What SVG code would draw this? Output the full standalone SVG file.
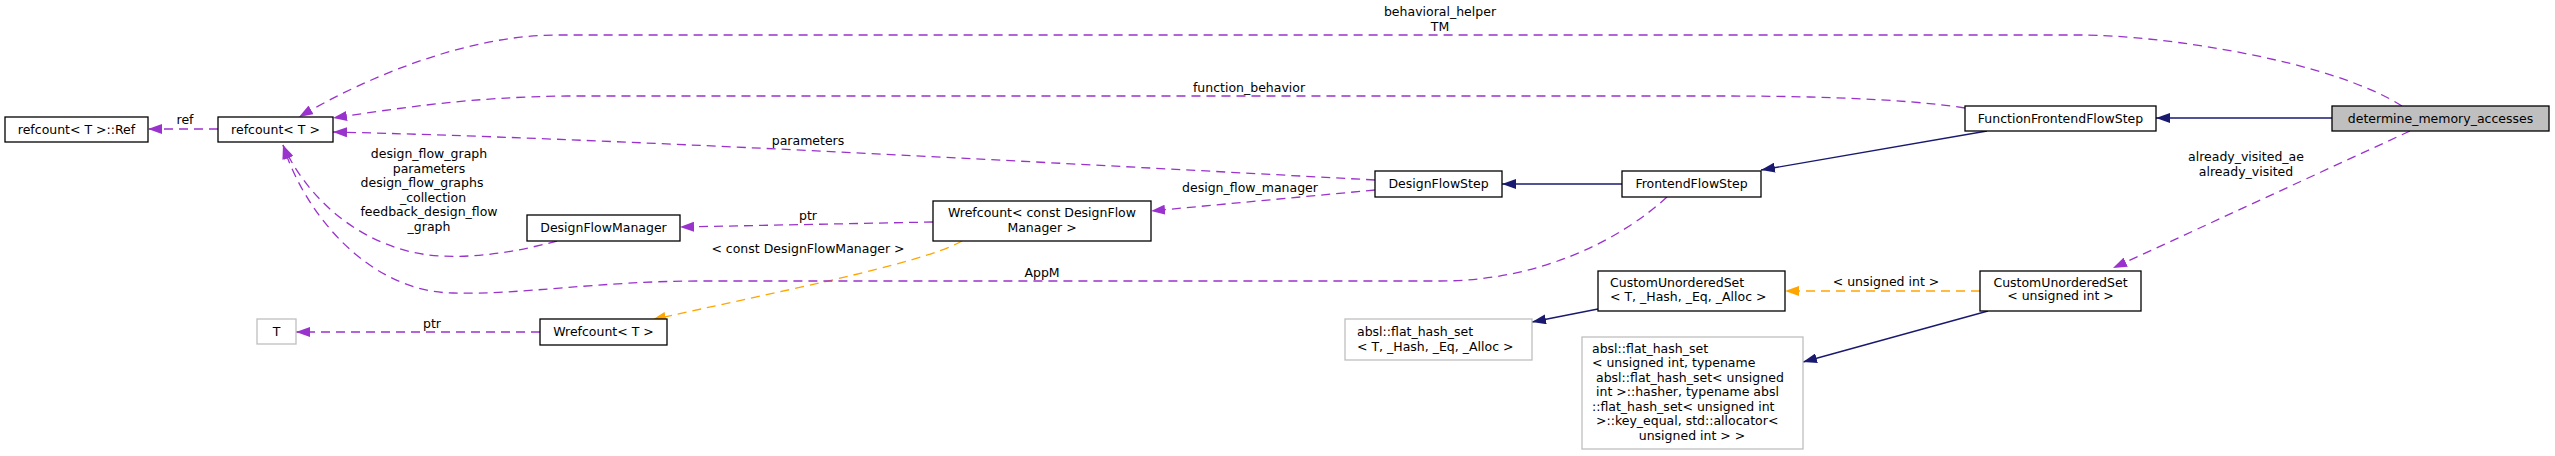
<svg xmlns="http://www.w3.org/2000/svg" width="2555" height="456" viewBox="0 0 2555 456">
<style>
text{font-family:"DejaVu Sans","Liberation Sans",sans-serif;font-size:12.5px;fill:#000}
.c{text-anchor:middle}
.box{fill:#fff;stroke:#000;stroke-width:1.3}
.gbox{fill:#fff;stroke:#bfbfbf;stroke-width:1.3}
.sel{fill:#bfbfbf;stroke:#000;stroke-width:1.3}
.use{fill:none;stroke:#9a32cd;stroke-width:1.3;stroke-dasharray:9,6}
.tpl{fill:none;stroke:#ffa500;stroke-width:1.3;stroke-dasharray:9,6}
.inh{fill:none;stroke:#191970;stroke-width:1.3}
</style>
<defs>
<marker id="ap" viewBox="0 0 14 10" markerWidth="14" markerHeight="10" refX="14" refY="5" markerUnits="userSpaceOnUse" orient="auto"><path d="M0,0L14,5L0,10z" fill="#9a32cd"/></marker>
<marker id="ao" viewBox="0 0 14 10" markerWidth="14" markerHeight="10" refX="14" refY="5" markerUnits="userSpaceOnUse" orient="auto"><path d="M0,0L14,5L0,10z" fill="#ffa500"/></marker>
<marker id="an" viewBox="0 0 14 10" markerWidth="14" markerHeight="10" refX="14" refY="5" markerUnits="userSpaceOnUse" orient="auto"><path d="M0,0L14,5L0,10z" fill="#191970"/></marker>
</defs>
<rect width="2555" height="456" fill="#fff"/>
<g id="connectors">
<path class="use" marker-end="url(#ap)" d="M218,129L148,129"/>
<text class="c" x="185" y="124">ref</text>
<path class="use" marker-end="url(#ap)" d="M2402,106C2330,60 2160,35 2081,35L557,35C470,35 370,75 299,117"/>
<text class="c" x="1440" y="16">behavioral_helper</text>
<text class="c" x="1440" y="31">TM</text>
<path class="use" marker-end="url(#ap)" d="M1965,108C1900,98 1800,96 1719,96L567,96C470,97 400,108 333,118"/>
<text class="c" x="1249" y="92">function_behavior</text>
<path class="use" marker-end="url(#ap)" d="M1375,180C1000,160 600,138 333,132"/>
<text class="c" x="808" y="145">parameters</text>
<path class="use" marker-end="url(#ap)" d="M1375,190L1151,211"/>
<text class="c" x="1250" y="192">design_flow_manager</text>
<path class="use" marker-end="url(#ap)" d="M933,222L680,227"/>
<text class="c" x="808" y="220">ptr</text>
<path class="tpl" marker-end="url(#ao)" d="M962,241C920,265 760,295 652,320"/>
<text class="c" x="808" y="253">&lt; const DesignFlowManager &gt;</text>
<path class="use" marker-end="url(#ap)" d="M557,241C520,251 480,258 440,256C370,252 310,205 283,145"/>
<text class="c" x="429" y="158">design_flow_graph</text>
<text class="c" x="429" y="173">parameters</text>
<text class="c" x="422" y="187">design_flow_graphs</text>
<text class="c" x="433" y="202">_collection</text>
<text class="c" x="429" y="216">feedback_design_flow</text>
<text class="c" x="429" y="231">_graph</text>
<path class="use" marker-end="url(#ap)" d="M1667,197C1620,240 1540,281 1440,281L700,281C600,281 520,295 453,293C370,292 305,215 283,145"/>
<text class="c" x="1042" y="277">AppM</text>
<path class="use" marker-end="url(#ap)" d="M540,332L296,332"/>
<text class="c" x="432" y="328">ptr</text>
<path class="inh" marker-end="url(#an)" d="M2332,118L2156,118"/>
<path class="inh" marker-end="url(#an)" d="M1987,131L1761,170"/>
<path class="inh" marker-end="url(#an)" d="M1622,184L1502,184"/>
<path class="inh" marker-end="url(#an)" d="M1598,309L1532,322"/>
<path class="inh" marker-end="url(#an)" d="M1988,311L1803,362"/>
<path class="tpl" marker-end="url(#ao)" d="M1980,291L1785,291"/>
<text class="c" x="1886" y="286">&lt; unsigned int &gt;</text>
<path class="use" marker-end="url(#ap)" d="M2410,131L2113,268"/>
<text class="c" x="2246" y="161">already_visited_ae</text>
<text class="c" x="2246" y="176">already_visited</text>
</g>
<g id="node_ref"><rect class="box" x="5" y="117" width="143" height="25"/><text class="c" x="76.5" y="134">refcount&lt; T &gt;::Ref</text></g>
<g id="node_refcount"><rect class="box" x="218" y="117" width="115" height="25"/><text class="c" x="275.5" y="134">refcount&lt; T &gt;</text></g>
<g id="node_dfm"><rect class="box" x="527" y="215" width="153" height="26"/><text class="c" x="603.5" y="232">DesignFlowManager</text></g>
<g id="node_wref_dfm"><rect class="box" x="933" y="201" width="218" height="40"/><text class="c" x="1042" y="217">Wrefcount&lt; const DesignFlow</text><text class="c" x="1042" y="232">Manager &gt;</text></g>
<g id="node_T"><rect class="gbox" x="257" y="319" width="39" height="25"/><text class="c" x="276.5" y="336">T</text></g>
<g id="node_wref_T"><rect class="box" x="540" y="319" width="127" height="26"/><text class="c" x="603.5" y="336">Wrefcount&lt; T &gt;</text></g>
<g id="node_dfs"><rect class="box" x="1375" y="171" width="127" height="26"/><text class="c" x="1438.5" y="188">DesignFlowStep</text></g>
<g id="node_ffs"><rect class="box" x="1622" y="171" width="139" height="26"/><text class="c" x="1691.5" y="188">FrontendFlowStep</text></g>
<g id="node_fffs"><rect class="box" x="1965" y="106" width="191" height="25"/><text class="c" x="2060.5" y="123">FunctionFrontendFlowStep</text></g>
<g id="node_dma"><rect class="sel" x="2332" y="106" width="217" height="25"/><text class="c" x="2440.5" y="123">determine_memory_accesses</text></g>
<g id="node_cus_T"><rect class="box" x="1598" y="271" width="187" height="40"/><text x="1610" y="287">CustomUnorderedSet</text><text x="1610" y="301">&lt; T, _Hash, _Eq, _Alloc &gt;</text></g>
<g id="node_cus_uint"><rect class="box" x="1980" y="271" width="161" height="40"/><text class="c" x="2060.5" y="287">CustomUnorderedSet</text><text class="c" x="2060.5" y="300">&lt; unsigned int &gt;</text></g>
<g id="node_absl_T"><rect class="gbox" x="1345" y="319" width="187" height="41"/><text x="1357" y="336">absl::flat_hash_set</text><text x="1357" y="351">&lt; T, _Hash, _Eq, _Alloc &gt;</text></g>
<g id="node_absl_uint"><rect class="gbox" x="1582" y="337" width="221" height="112"/>
<text x="1592" y="353">absl::flat_hash_set</text>
<text x="1592" y="367">&lt; unsigned int, typename</text>
<text x="1596" y="382">absl::flat_hash_set&lt; unsigned</text>
<text x="1596" y="396">int &gt;::hasher, typename absl</text>
<text x="1592" y="411">::flat_hash_set&lt; unsigned int</text>
<text x="1596" y="425">&gt;::key_equal, std::allocator&lt;</text>
<text class="c" x="1692" y="440">unsigned int &gt; &gt;</text>
</g>
</svg>
